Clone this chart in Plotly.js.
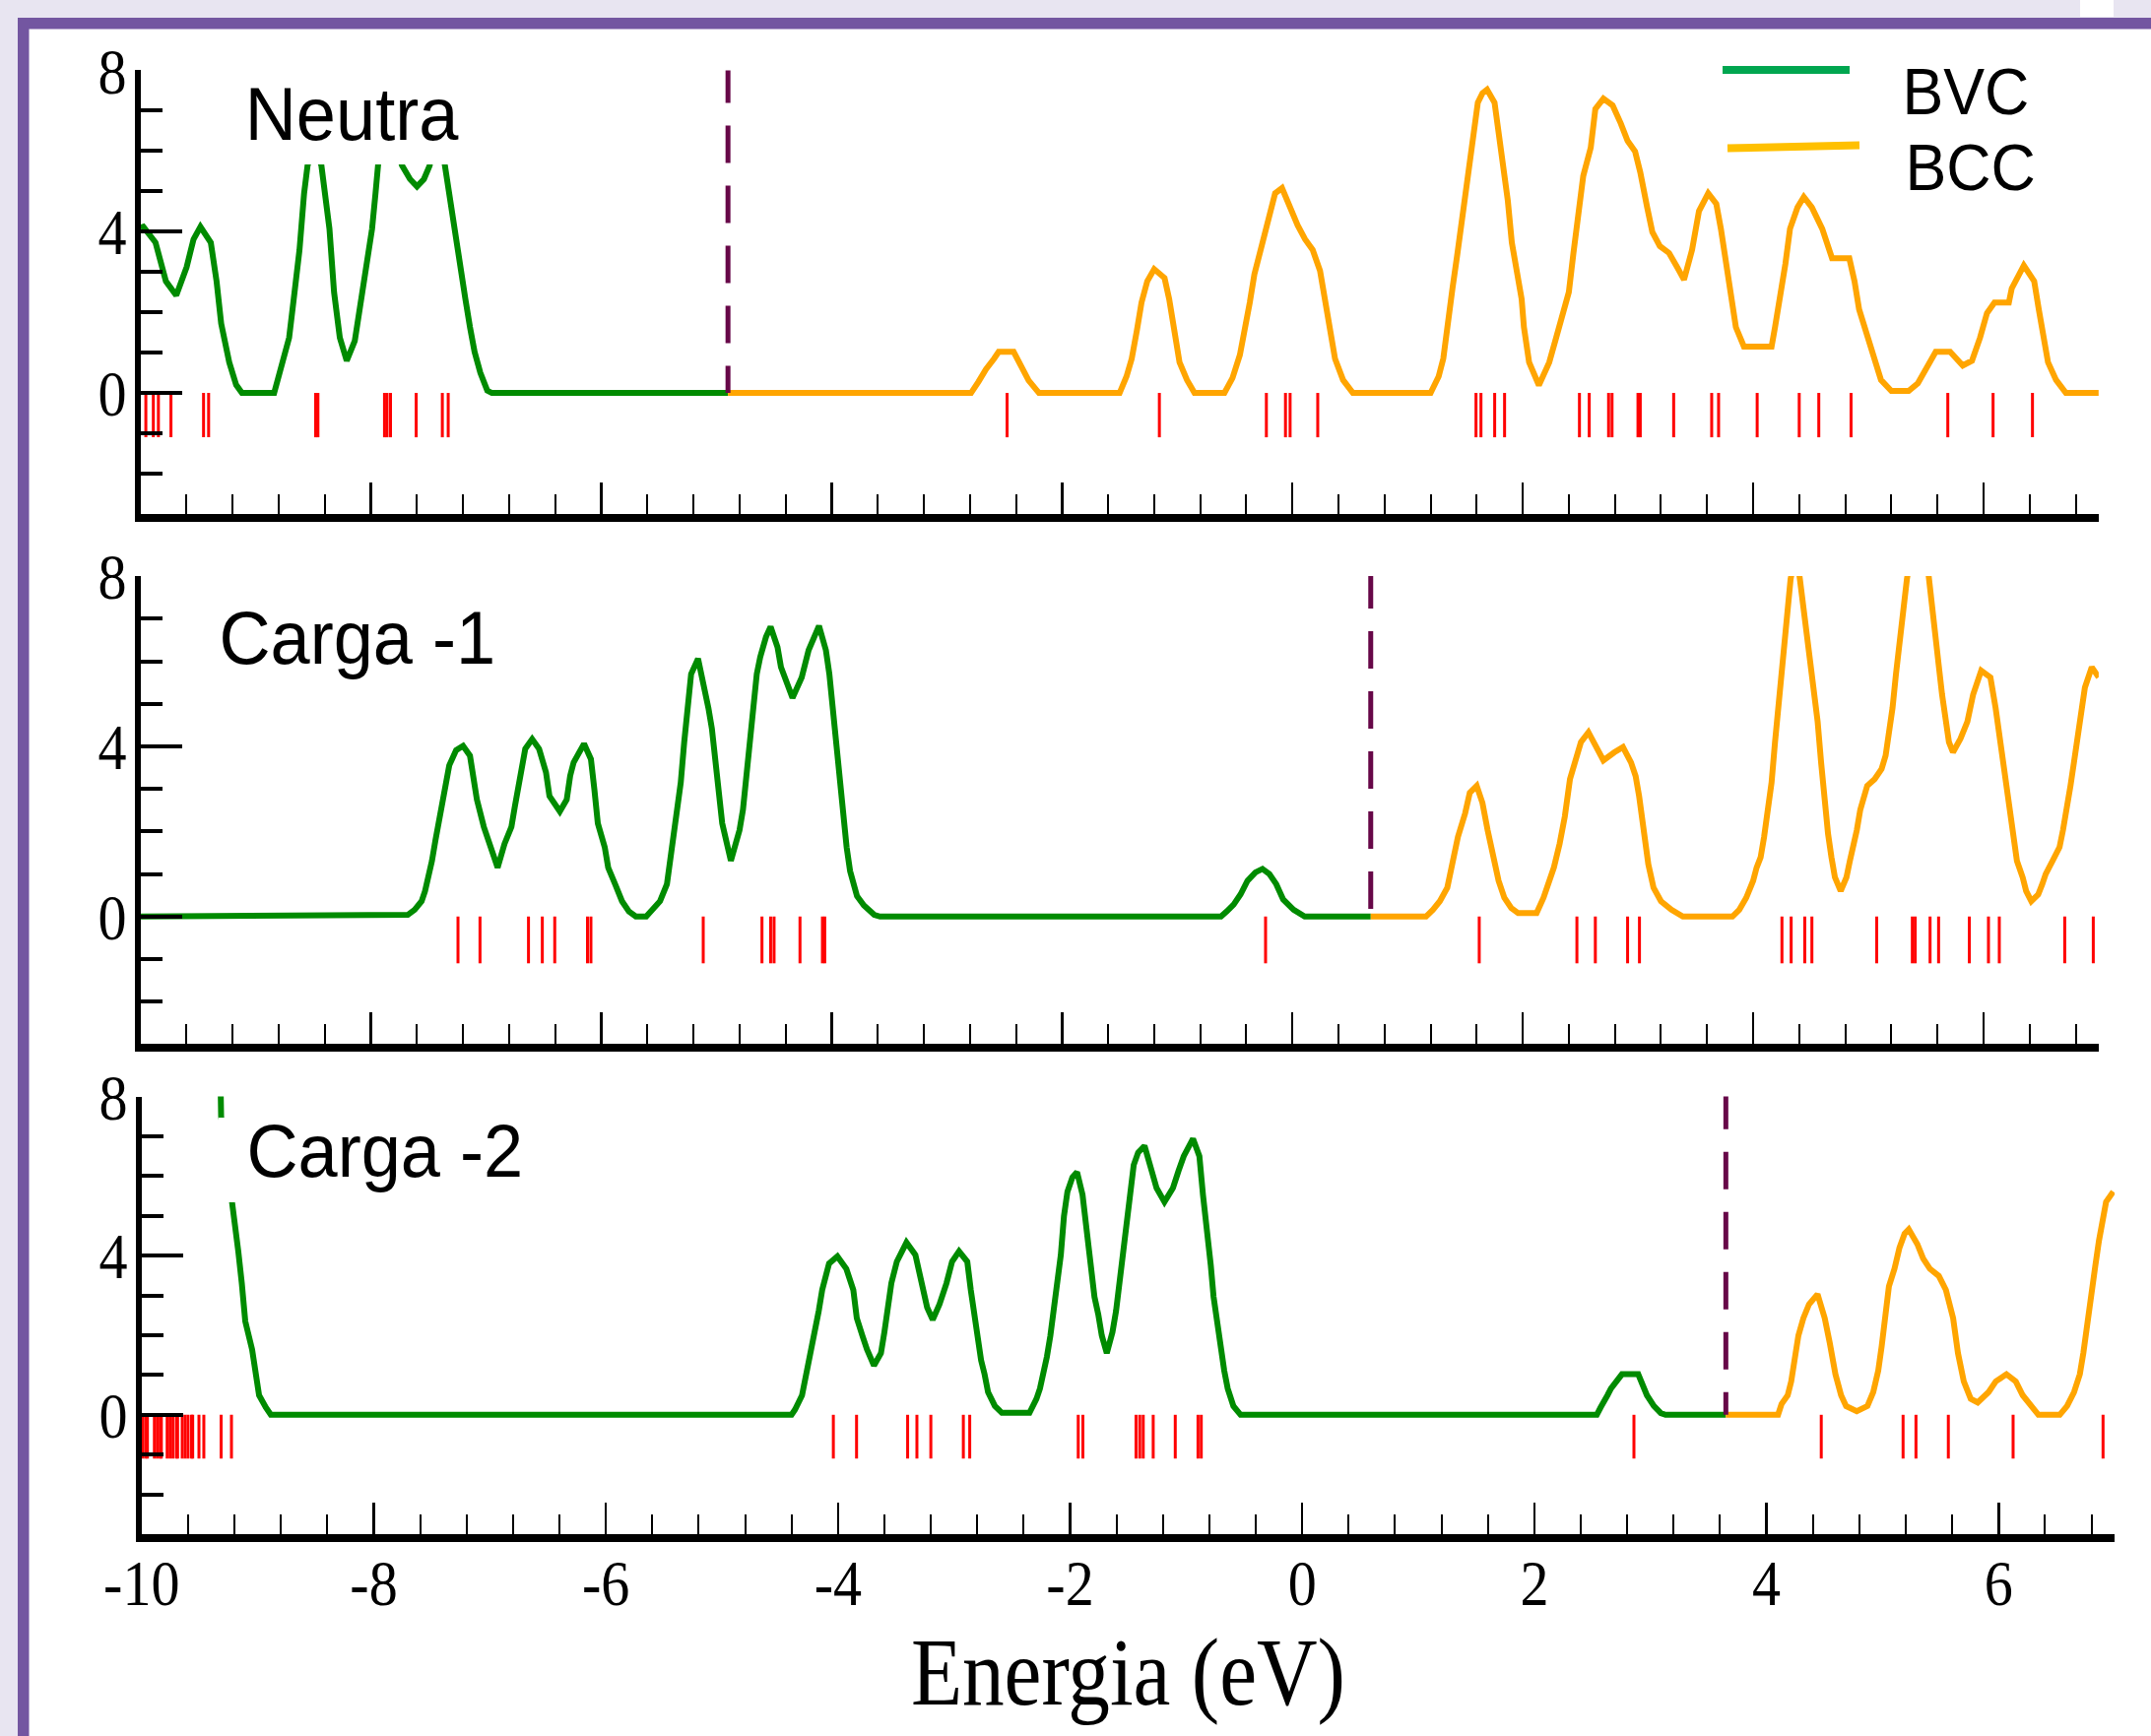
<!DOCTYPE html>
<html>
<head>
<meta charset="utf-8">
<script src="https://cdn.plot.ly/plotly-3.0.1.min.js"></script>
<style>
html,body{margin:0;padding:0;background:#ffffff;}
#chart{width:2184px;height:1763px;}
</style>
</head>
<body>
<div id="chart"></div>
<script>
// ---------------- DATA ----------------
const panelLabels = ['Neutra', 'Carga -1', 'Carga -2'];
const legendLabels = ['BVC', 'BCC'];
const xTickVals = [-10, -8, -6, -4, -2, 0, 2, 4, 6];
const xTickText = ['-10', '-8', '-6', '-4', '-2', '0', '2', '4', '6'];
const yTickVals = [0, 4, 8];
const yTickText = ['0', '4', '8'];
const xTitle = 'Energia (eV)';

// Fermi / HOMO level per panel (eV)
const levelNeutra = -4.9;
const levelCarga1 = 0.68;
const levelCarga2 = 3.65;

// Neutra
const neutraBvcE = [-10.0, -9.976, -9.87, -9.82, -9.78, -9.69, -9.60, -9.54, -9.48, -9.39, -9.34, -9.30, -9.23, -9.17, -9.12, -8.84, -8.78, -8.71, -8.67, -8.62, -8.58, -8.55, -8.49, -8.43, -8.36, -8.34, -8.32, -8.27, -8.21, -8.14, -8.08, -8.035, -7.99, -7.96, -7.93, -7.85, -7.77, -7.73, -7.66, -7.60, -7.54, -7.49, -7.42, -7.36, -7.315, -7.27, -7.23, -7.18, -7.14, -7.10, -7.05, -6.99, -6.95, -4.9];
const neutraBvcD = [4.1, 4.12, 3.73, 3.25, 2.77, 2.42, 3.12, 3.81, 4.12, 3.73, 2.77, 1.72, 0.76, 0.2, 0, 0, 0.59, 1.37, 2.33, 3.55, 4.95, 5.64, 6.1, 5.64, 4.07, 3.3, 2.5, 1.37, 0.8, 1.29, 2.33, 3.12, 4.07, 4.95, 5.9, 6.8, 6.0, 5.64, 5.3, 5.12, 5.3, 5.64, 6.8, 5.64, 4.69, 3.99, 3.25, 2.33, 1.63, 1.02, 0.5, 0.06, 0, 0];
const neutraBccE = [-4.9, -2.79, -2.725, -2.66, -2.59, -2.55, -2.42, -2.355, -2.29, -2.20, -1.50, -1.44, -1.395, -1.35, -1.31, -1.26, -1.20, -1.11, -1.07, -1.02, -0.98, -0.915, -0.85, -0.59, -0.52, -0.456, -0.41, -0.37, -0.33, -0.26, -0.195, -0.15, -0.09, -0.02, 0.045, 0.11, 0.176, 0.24, 0.285, 0.33, 0.37, 0.44, 0.525, 1.20, 1.27, 1.31, 1.35, 1.39, 1.43, 1.48, 1.52, 1.56, 1.61, 1.65, 1.69, 1.755, 1.80, 1.84, 1.87, 1.905, 1.95, 1.99, 2.01, 2.055, 2.14, 2.23, 2.29, 2.355, 2.40, 2.44, 2.48, 2.525, 2.59, 2.63, 2.70, 2.78, 2.85, 2.91, 2.975, 3.02, 3.08, 3.125, 3.19, 3.27, 3.34, 3.40, 3.47, 3.53, 3.61, 3.68, 3.72, 3.765, 3.81, 3.85, 3.92, 4.16, 4.19, 4.235, 4.28, 4.32, 4.385, 4.44, 4.51, 4.60, 4.66, 4.685, 4.835, 4.88, 4.92, 4.985, 5.05, 5.11, 5.20, 5.35, 5.43, 5.50, 5.56, 5.585, 5.71, 5.82, 5.90, 5.97, 6.03, 6.095, 6.22, 6.245, 6.35, 6.44, 6.48, 6.52, 6.56, 6.63, 6.715, 7.0];
const neutraBccD = [0, 0, 0.28, 0.59, 0.85, 1.02, 1.02, 0.63, 0.31, 0, 0, 0.41, 0.85, 1.55, 2.24, 2.77, 3.07, 2.85, 2.33, 1.46, 0.76, 0.32, 0, 0, 0.37, 0.94, 1.55, 2.24, 2.94, 3.73, 4.51, 4.95, 5.08, 4.6, 4.16, 3.81, 3.55, 3.03, 2.24, 1.37, 0.85, 0.32, 0, 0, 0.41, 0.85, 1.89, 2.6, 3.4, 4.5, 5.2, 6.3, 7.2, 7.43, 7.52, 7.2, 6.25, 5.56, 4.77, 3.73, 3.03, 2.33, 1.63, 0.76, 0.19, 0.76, 1.37, 2.07, 2.5, 3.47, 4.51, 5.38, 6.08, 7.04, 7.3, 7.13, 6.69, 6.25, 5.99, 5.47, 4.6, 3.99, 3.64, 3.47, 3.12, 2.81, 3.55, 4.51, 4.95, 4.69, 4.07, 3.2, 2.33, 1.63, 1.15, 1.15, 1.63, 2.33, 3.2, 4.07, 4.6, 4.86, 4.6, 4.07, 3.47, 3.34, 3.34, 2.77, 2.07, 1.46, 0.85, 0.32, 0.05, 0.05, 0.24, 0.59, 0.94, 1.02, 1.02, 0.68, 0.8, 1.37, 1.98, 2.24, 2.24, 2.59, 3.16, 2.77, 2.07, 1.37, 0.76, 0.32, 0, 0];
const neutraLevels = [-9.954, -9.889, -9.845, -9.736, -9.453, -9.409, -8.48, -8.46, -7.882, -7.86, -7.83, -7.607, -7.38, -7.329, -2.477, -1.155, -0.226, -0.06, -0.02, 0.22, 1.594, 1.637, 1.756, 1.842, 2.492, 2.577, 2.745, 2.775, 3.0, 3.02, 3.31, 3.64, 3.70, 4.035, 4.40, 4.57, 4.85, 5.69, 6.083, 6.425];

// Carga -1
const carga1BvcE = [-10, -7.68, -7.62, -7.56, -7.53, -7.50, -7.47, -7.44, -7.41, -7.38, -7.35, -7.32, -7.26, -7.20, -7.14, -7.11, -7.08, -7.02, -6.96, -6.90, -6.84, -6.78, -6.75, -6.72, -6.69, -6.66, -6.60, -6.54, -6.48, -6.45, -6.36, -6.30, -6.27, -6.24, -6.15, -6.09, -6.06, -6.03, -5.97, -5.94, -5.88, -5.82, -5.76, -5.70, -5.61, -5.55, -5.49, -5.43, -5.40, -5.37, -5.34, -5.31, -5.28, -5.25, -5.22, -5.16, -5.10, -5.07, -5.04, -5.01, -4.98, -4.95, -4.875, -4.80, -4.77, -4.74, -4.71, -4.68, -4.65, -4.62, -4.57, -4.53, -4.47, -4.44, -4.34, -4.26, -4.20, -4.11, -4.05, -4.02, -3.99, -3.96, -3.93, -3.90, -3.87, -3.84, -3.81, -3.78, -3.72, -3.63, -3.58, -0.62, -0.57, -0.51, -0.45, -0.39, -0.32, -0.26, -0.20, -0.14, -0.08, 0.01, 0.107, 0.68];
const carga1BvcD = [0, 0.04, 0.16, 0.36, 0.6, 0.92, 1.31, 1.79, 2.19, 2.75, 3.15, 3.55, 3.91, 4.01, 3.78, 3.31, 2.75, 2.11, 1.63, 1.15, 1.71, 2.11, 2.59, 2.99, 3.47, 3.94, 4.17, 3.94, 3.39, 2.83, 2.47, 2.75, 3.31, 3.62, 4.06, 3.7, 2.99, 2.19, 1.63, 1.15, 0.76, 0.36, 0.12, 0, 0, 0.16, 0.36, 0.76, 1.31, 1.87, 2.43, 3.15, 4.10, 4.98, 5.70, 6.06, 5.38, 4.9, 4.42, 3.62, 2.83, 2.19, 1.31, 2.03, 2.51, 3.31, 4.18, 4.98, 5.70, 6.1, 6.57, 6.81, 6.33, 5.86, 5.14, 5.62, 6.26, 6.83, 6.26, 5.70, 4.9, 3.94, 3.07, 2.36, 1.63, 1.07, 0.76, 0.48, 0.26, 0.04, 0, 0, 0.12, 0.28, 0.52, 0.84, 1.04, 1.12, 1.0, 0.76, 0.4, 0.16, 0, 0];
const carga1BccE = [0.68, 1.16, 1.22, 1.28, 1.345, 1.406, 1.437, 1.50, 1.54, 1.60, 1.65, 1.695, 1.745, 1.79, 1.84, 1.90, 1.96, 2.12, 2.18, 2.225, 2.27, 2.32, 2.365, 2.41, 2.455, 2.505, 2.57, 2.64, 2.70, 2.795, 2.87, 2.94, 2.98, 3.01, 3.045, 3.09, 3.135, 3.20, 3.29, 3.39, 3.82, 3.88, 3.94, 4.0, 4.03, 4.065, 4.095, 4.128, 4.16, 4.19, 4.22, 4.25, 4.28, 4.30, 4.325, 4.375, 4.435, 4.47, 4.50, 4.53, 4.56, 4.59, 4.62, 4.65, 4.68, 4.71, 4.76, 4.81, 4.84, 4.87, 4.90, 4.93, 4.96, 4.99, 5.055, 5.115, 5.15, 5.18, 5.21, 5.24, 5.27, 5.30, 5.335, 5.40, 5.47, 5.52, 5.55, 5.58, 5.61, 5.64, 5.67, 5.70, 5.735, 5.80, 5.86, 5.91, 5.98, 6.06, 6.105, 6.137, 6.17, 6.20, 6.23, 6.26, 6.29, 6.34, 6.37, 6.415, 6.475, 6.51, 6.54, 6.60, 6.66, 6.69, 6.725, 6.755, 6.785, 6.82, 6.85, 6.88, 6.94, 7.0];
const carga1BccD = [0, 0, 0.16, 0.36, 0.68, 1.39, 1.87, 2.43, 2.91, 3.07, 2.67, 2.03, 1.39, 0.84, 0.44, 0.2, 0.08, 0.08, 0.44, 0.76, 1.15, 1.71, 2.35, 3.23, 3.7, 4.10, 4.33, 3.94, 3.67, 3.86, 3.98, 3.62, 3.3, 2.83, 2.03, 1.23, 0.68, 0.36, 0.16, 0, 0, 0.16, 0.44, 0.84, 1.15, 1.39, 1.87, 2.43, 3.15, 4.10, 4.98, 5.86, 6.65, 7.37, 7.93, 8.6, 7.29, 6.57, 5.86, 5.22, 4.58, 3.62, 2.75, 1.95, 1.39, 0.92, 0.6, 0.92, 1.31, 1.63, 2.03, 2.51, 2.75, 3.07, 3.23, 3.47, 3.78, 4.26, 4.9, 5.7, 6.49, 7.29, 7.93, 9.0, 9.0, 8.1, 7.45, 6.73, 5.93, 5.22, 4.58, 4.1, 3.86, 4.18, 4.58, 5.22, 5.78, 5.62, 4.9, 4.26, 3.62, 2.99, 2.35, 1.87, 1.31, 0.92, 0.6, 0.36, 0.52, 0.76, 1.0, 1.31, 1.63, 2.03, 2.51, 3.07, 3.62, 4.26, 4.9, 5.38, 5.86, 5.62];
const carga1Levels = [-7.244, -7.053, -6.632, -6.512, -6.404, -6.12, -6.09, -5.115, -4.605, -4.53, -4.50, -4.275, -4.08, -4.06, -0.233, 1.622, 2.47, 2.63, 2.91, 3.013, 4.25, 4.33, 4.448, 4.51, 5.073, 5.382, 5.407, 5.536, 5.61, 5.877, 6.043, 6.137, 6.705, 6.953];

// Carga -2
const carga2BvcE = [-10, -9.7, -9.45, -9.33, -9.315, -9.26, -9.214, -9.167, -9.137, -9.107, -9.048, -9.017, -8.988, -8.929, -8.887, -4.40, -4.37, -4.31, -4.285, -4.255, -4.225, -4.196, -4.166, -4.136, -4.106, -4.077, -4.005, -3.928, -3.868, -3.838, -3.79, -3.75, -3.69, -3.63, -3.60, -3.571, -3.54, -3.493, -3.41, -3.333, -3.303, -3.273, -3.232, -3.184, -3.125, -3.065, -3.017, -2.957, -2.886, -2.856, -2.827, -2.797, -2.767, -2.737, -2.707, -2.648, -2.588, -2.35, -2.29, -2.26, -2.23, -2.20, -2.17, -2.14, -2.112, -2.08, -2.053, -2.023, -1.98, -1.94, -1.893, -1.868, -1.844, -1.82, -1.79, -1.757, -1.727, -1.684, -1.635, -1.604, -1.574, -1.543, -1.512, -1.483, -1.452, -1.414, -1.359, -1.298, -1.255, -1.187, -1.114, -1.065, -1.021, -0.941, -0.886, -0.855, -0.818, -0.788, -0.764, -0.733, -0.703, -0.672, -0.642, -0.593, -0.531, 2.538, 2.57, 2.60, 2.63, 2.66, 2.72, 2.755, 2.895, 2.93, 2.97, 3.03, 3.09, 3.13, 3.65];
const carga2BvcD = [16, 18, 14, 10, 7.5, 6.3, 5.39, 4.11, 3.31, 2.35, 1.64, 1.11, 0.49, 0.18, 0, 0, 0.13, 0.49, 0.84, 1.19, 1.64, 2.08, 2.61, 3.14, 3.49, 3.8, 3.98, 3.67, 3.14, 2.43, 1.99, 1.64, 1.24, 1.55, 2.08, 2.78, 3.31, 3.85, 4.33, 4.02, 3.58, 3.23, 2.7, 2.39, 2.78, 3.31, 3.85, 4.11, 3.85, 3.14, 2.52, 1.99, 1.37, 1.02, 0.57, 0.22, 0.05, 0.05, 0.4, 0.66, 1.02, 1.46, 1.99, 2.61, 3.14, 4.02, 4.99, 5.61, 5.97, 6.1, 5.53, 4.91, 4.11, 3.49, 2.96, 2.52, 1.99, 1.55, 2.08, 2.61, 3.4, 4.2, 4.99, 5.7, 6.28, 6.59, 6.76, 6.14, 5.7, 5.35, 5.7, 6.14, 6.5, 6.94, 6.5, 5.52, 4.64, 3.76, 2.97, 2.25, 1.55, 1.11, 0.66, 0.22, 0, 0, 0.18, 0.31, 0.49, 0.66, 0.89, 1.02, 1.02, 0.75, 0.49, 0.22, 0.04, 0, 0];
const carga2BccE = [3.65, 4.10, 4.13, 4.183, 4.213, 4.244, 4.275, 4.318, 4.367, 4.44, 4.502, 4.545, 4.594, 4.643, 4.686, 4.778, 4.87, 4.92, 4.963, 4.993, 5.025, 5.055, 5.103, 5.146, 5.19, 5.226, 5.30, 5.35, 5.408, 5.485, 5.546, 5.608, 5.65, 5.70, 5.76, 5.82, 5.914, 5.976, 6.068, 6.148, 6.208, 6.282, 6.343, 6.527, 6.59, 6.65, 6.70, 6.73, 6.76, 6.79, 6.834, 6.865, 6.895, 6.926, 6.988];
const carga2BccD = [0, 0, 0.27, 0.49, 0.84, 1.37, 1.99, 2.43, 2.78, 3.03, 2.43, 1.81, 1.02, 0.49, 0.22, 0.09, 0.22, 0.57, 1.11, 1.73, 2.43, 3.23, 3.67, 4.2, 4.55, 4.66, 4.29, 3.93, 3.67, 3.49, 3.14, 2.43, 1.55, 0.84, 0.4, 0.31, 0.57, 0.84, 1.02, 0.84, 0.49, 0.22, 0, 0, 0.22, 0.57, 1.02, 1.55, 2.25, 2.97, 3.76, 4.38, 4.91, 5.35, 5.61];
const carga2Levels = [-9.99, -9.965, -9.95, -9.89, -9.865, -9.84, -9.83, -9.78, -9.755, -9.73, -9.70, -9.69, -9.65, -9.625, -9.60, -9.57, -9.56, -9.506, -9.464, -9.315, -9.226, -4.04, -3.84, -3.40, -3.32, -3.20, -2.92, -2.865, -1.93, -1.89, -1.432, -1.40, -1.37, -1.284, -1.094, -0.898, -0.87, 2.858, 4.472, 5.177, 5.288, 5.567, 6.125, 6.90];

// ---------------- STYLE / LAYOUT ----------------
const W = 2184, H = 1763;
function fx(p) { return p / W; }
function fy(p) { return 1 - p / H; }

const GREEN = '#008b00', ORANGE = '#ffa500', RED = '#ff0000', MAROON = '#670748';
const SERIF = 'Liberation Serif, Times New Roman, serif';
const SANS = 'Liberation Sans, Arial, Helvetica, sans-serif';
const stickLen = 1.1;

function sticks(levels) {
  const x = [], y = [];
  levels.forEach(function (e) { x.push(e, e, null); y.push(0, -stickLen, null); });
  return { x: x, y: y };
}

const panels = [
  { bvcE: neutraBvcE, bvcD: neutraBvcD, bccE: neutraBccE, bccD: neutraBccD, levels: neutraLevels, ef: levelNeutra, xa: 'x', ya: 'y' },
  { bvcE: carga1BvcE, bvcD: carga1BvcD, bccE: carga1BccE, bccD: carga1BccD, levels: carga1Levels, ef: levelCarga1, xa: 'x2', ya: 'y2' },
  { bvcE: carga2BvcE, bvcD: carga2BvcD, bccE: carga2BccE, bccD: carga2BccD, levels: carga2Levels, ef: levelCarga2, xa: 'x3', ya: 'y3' }
];

const data = [];
panels.forEach(function (p) {
  const s = sticks(p.levels);
  data.push({ type: 'scatter', mode: 'lines', x: s.x, y: s.y, xaxis: p.xa, yaxis: p.ya,
    line: { color: RED, width: 3 }, hoverinfo: 'skip', showlegend: false, connectgaps: false });
  data.push({ type: 'scatter', mode: 'lines', x: p.bvcE, y: p.bvcD, xaxis: p.xa, yaxis: p.ya,
    line: { color: GREEN, width: 6 }, hoverinfo: 'skip', showlegend: false });
  data.push({ type: 'scatter', mode: 'lines', x: p.bccE, y: p.bccD, xaxis: p.xa, yaxis: p.ya,
    line: { color: ORANGE, width: 6 }, hoverinfo: 'skip', showlegend: false });
});

function xAxisCfg(x0, x1, anchor, labels) {
  const c = {
    domain: [fx(x0), fx(x1)], anchor: anchor, range: [-10, 7], autorange: false,
    showgrid: false, zeroline: false, fixedrange: true,
    showline: true, linecolor: '#000', linewidth: 8,
    ticks: 'inside', ticklen: 32, tickwidth: 2.5, tickcolor: '#000',
    showticklabels: !!labels,
    tickfont: { family: SERIF, size: 66, color: '#000' },
    minor: { ticks: 'inside', ticklen: 20, tickwidth: 2, tickcolor: '#000', tickmode: 'linear', dtick: 0.4, tick0: 0, showgrid: false }
  };
  if (labels) {
    c.tickmode = 'array'; c.tickvals = xTickVals; c.ticktext = xTickText;
    c.ticklabelstandoff = -15;
    c.title = { text: xTitle, font: { family: SERIF, size: 98, color: '#000' }, standoff: 22 };
  } else {
    c.tickmode = 'linear'; c.tick0 = 0; c.dtick = 2;
  }
  return c;
}
function yAxisCfg(yTop, yBottom, anchor) {
  return {
    domain: [fy(yBottom), fy(yTop)], anchor: anchor, range: [-3, 8], autorange: false,
    showgrid: false, zeroline: false, fixedrange: true,
    showline: true, linecolor: '#000', linewidth: 6,
    ticks: 'inside', ticklen: 42, tickwidth: 4, tickcolor: '#000',
    tickmode: 'array', tickvals: yTickVals, ticktext: yTickText,
    tickfont: { family: SERIF, size: 66, color: '#000' },
    ticklabelstandoff: -5,
    minor: { ticks: 'inside', ticklen: 22, tickwidth: 4, tickcolor: '#000', tickmode: 'linear', dtick: 1, tick0: 0, showgrid: false }
  };
}

function rectPx(x0, y0, x1, y1, color, layer) {
  return { type: 'rect', xref: 'paper', yref: 'paper', x0: fx(x0), x1: fx(x1), y0: fy(y1), y1: fy(y0),
    fillcolor: color, line: { width: 0 }, layer: layer };
}

const shapes = [
  rectPx(0, 0, W, 18, '#e8e5f1', 'below'),
  rectPx(0, 0, 18, H, '#e8e5f1', 'below'),
  rectPx(2112, 0, 2146, 17, '#ffffff', 'below'),
  rectPx(18, 18, W, 29.5, '#7356a1', 'below'),
  rectPx(18, 18, 29.5, H, '#7356a1', 'below'),
  // white label boxes (drawn over the curves)
  rectPx(240, 58, 478, 167, '#ffffff', 'above'),
  rectPx(222, 1135, 548, 1221, '#ffffff', 'above'),
  // legend lines
  { type: 'line', xref: 'paper', yref: 'paper', x0: fx(1749), x1: fx(1878), y0: fy(71), y1: fy(71), line: { color: '#00a650', width: 8 } },
  { type: 'line', xref: 'paper', yref: 'paper', x0: fx(1754), x1: fx(1888), y0: fy(150.5), y1: fy(147.5), line: { color: '#ffc000', width: 8 } }
];
panels.forEach(function (p) {
  shapes.push({ type: 'line', xref: p.xa, yref: p.ya, x0: p.ef, x1: p.ef, y0: 8.12, y1: 0,
    line: { color: MAROON, width: 5, dash: '38px,23px' }, layer: 'above' });
});

function label(text, cx, cy, size) {
  return { text: text, xref: 'paper', yref: 'paper', x: fx(cx), y: fy(cy), xanchor: 'center', yanchor: 'middle',
    showarrow: false, font: { family: SANS, size: size, color: '#000' } };
}
const annotations = [
  label(panelLabels[0], 357, 115.5, 76),
  label(panelLabels[1], 363, 647.5, 76),
  label(panelLabels[2], 391, 1168, 76),
  label(legendLabels[0], 1995.5, 93, 66),
  label(legendLabels[1], 2000, 170.5, 66)
];

const layout = {
  width: W, height: H, margin: { l: 0, r: 0, t: 0, b: 0, pad: 0 },
  paper_bgcolor: '#ffffff', plot_bgcolor: 'rgba(0,0,0,0)',
  showlegend: false, hovermode: false,
  xaxis: xAxisCfg(142.7, 2130.9, 'y', false),
  yaxis: yAxisCfg(71.4, 521.9, 'x'),
  xaxis2: xAxisCfg(142.7, 2130.9, 'y2', false),
  yaxis2: yAxisCfg(585.1, 1060.4, 'x2'),
  xaxis3: xAxisCfg(143.8, 2147.1, 'y3', true),
  yaxis3: yAxisCfg(1113.6, 1558, 'x3'),
  shapes: shapes,
  annotations: annotations
};

function squeeze(sel, s) {
  document.querySelectorAll(sel).forEach(function (t) {
    try {
      const bb = t.getBBox();
      const anchor = t.getAttribute('text-anchor') || 'start';
      const px = anchor === 'end' ? bb.x + bb.width : (anchor === 'middle' ? bb.x + bb.width / 2 : bb.x);
      const tr = t.getAttribute('transform') || '';
      t.setAttribute('transform', tr + ' translate(' + px + ',0) scale(' + s + ',1) translate(' + (-px) + ',0)');
    } catch (e) {}
  });
}

Plotly.newPlot('chart', data, layout, { staticPlot: true, displayModeBar: false }).then(function () {
  squeeze('g.x3tick > text, g.ytick > text, g.y2tick > text, g.y3tick > text', 0.88);
  squeeze('text.x3title', 0.87);
  squeeze('text.annotation-text', 0.95);
});
</script>
</body>
</html>
